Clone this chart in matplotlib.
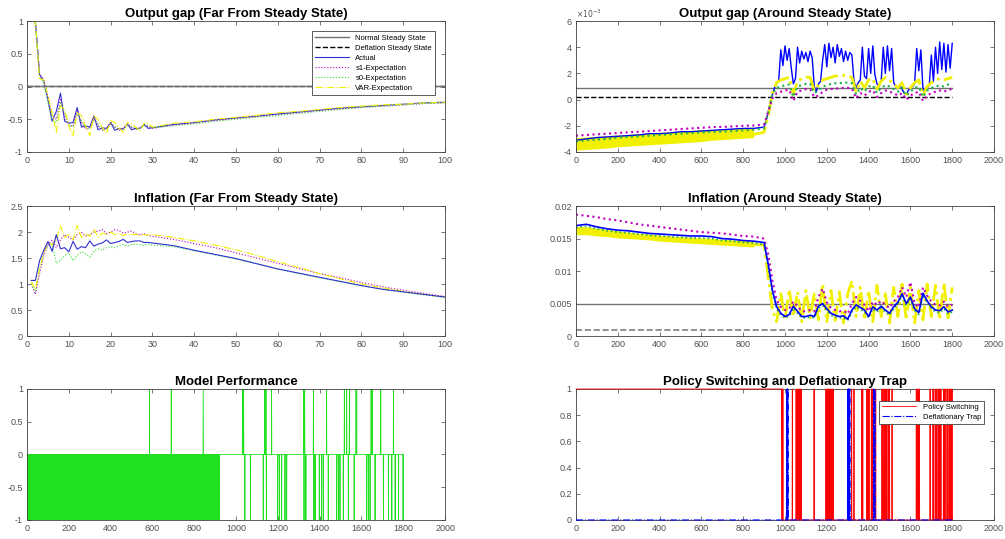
import matplotlib.pyplot as plt
import numpy as np
from matplotlib.ticker import FuncFormatter

plt.rcParams['font.family'] = ['Liberation Sans', 'DejaVu Sans']
plt.rcParams['axes.unicode_minus'] = False

############------input-----##############
# far from steady state: periods 1..30, then every 5 up to 100
t_far = list(range(1, 31)) + list(range(35, 101, 5))

gap_actual = [1.6, 1.0, 0.18, 0.08, -0.2, -0.53, -0.38, -0.1, -0.53, -0.56,
              -0.55, -0.32, -0.62, -0.6, -0.62, -0.45, -0.66, -0.63, -0.64, -0.55,
              -0.67, -0.64, -0.65, -0.57, -0.66, -0.64, -0.64, -0.58, -0.64, -0.63,
              -0.58, -0.55, -0.51, -0.48, -0.45, -0.42, -0.39, -0.36, -0.33, -0.31,
              -0.29, -0.27, -0.25, -0.24]
gap_s1 = [1.5, 0.95, 0.2, 0.1, -0.15, -0.45, -0.5, -0.2, -0.45, -0.6,
          -0.6, -0.38, -0.55, -0.65, -0.63, -0.48, -0.6, -0.67, -0.64, -0.55,
          -0.62, -0.67, -0.64, -0.58, -0.62, -0.66, -0.63, -0.59, -0.61, -0.64,
          -0.59, -0.56, -0.52, -0.49, -0.46, -0.43, -0.4, -0.37, -0.34, -0.32,
          -0.3, -0.28, -0.26, -0.25]
gap_s0 = [1.4, 0.9, 0.15, 0.05, -0.25, -0.5, -0.55, -0.25, -0.4, -0.58,
          -0.62, -0.42, -0.52, -0.63, -0.64, -0.5, -0.58, -0.66, -0.65, -0.57,
          -0.6, -0.66, -0.65, -0.6, -0.61, -0.65, -0.64, -0.6, -0.6, -0.63,
          -0.6, -0.57, -0.53, -0.5, -0.47, -0.44, -0.41, -0.38, -0.35, -0.32,
          -0.3, -0.28, -0.26, -0.25]
gap_var = [1.2, 1.0, 0.12, 0.1, -0.15, -0.4, -0.7, -0.3, -0.35, -0.6,
           -0.75, -0.4, -0.45, -0.6, -0.75, -0.45, -0.5, -0.62, -0.72, -0.52,
           -0.55, -0.63, -0.7, -0.55, -0.57, -0.62, -0.68, -0.56, -0.57, -0.62,
           -0.56, -0.54, -0.5, -0.47, -0.44, -0.4, -0.38, -0.35, -0.32, -0.3,
           -0.28, -0.27, -0.25, -0.24]

inf_actual = [1.07, 1.07, 1.45, 1.65, 1.82, 1.63, 1.95, 1.68, 1.7, 1.62,
              1.82, 1.67, 1.72, 1.7, 1.83, 1.73, 1.77, 1.79, 1.85, 1.78,
              1.8, 1.82, 1.86, 1.8, 1.82, 1.83, 1.83, 1.8, 1.8, 1.79,
              1.74, 1.65, 1.57, 1.49, 1.39, 1.29, 1.21, 1.13, 1.05, 0.97,
              0.9, 0.85, 0.8, 0.75]
inf_s1 = [1.0, 0.8, 1.2, 1.55, 1.75, 1.85, 1.7, 1.85, 1.95, 1.9,
          1.85, 1.95, 2.0, 1.92, 1.95, 2.0, 2.02, 2.05, 1.97, 2.0,
          2.05, 2.03, 1.98, 2.0, 2.02, 1.97, 1.95, 1.97, 1.93, 1.92,
          1.86, 1.78, 1.7, 1.6, 1.5, 1.4, 1.3, 1.2, 1.12, 1.03,
          0.95, 0.88, 0.82, 0.76]
inf_s0 = [1.0, 0.85, 1.3, 1.6, 1.75, 1.78, 1.4, 1.45, 1.55, 1.6,
          1.45, 1.55, 1.62, 1.58, 1.52, 1.63, 1.68, 1.65, 1.7, 1.72,
          1.7, 1.74, 1.76, 1.73, 1.76, 1.77, 1.76, 1.75, 1.76, 1.75,
          1.72, 1.64, 1.56, 1.48, 1.39, 1.29, 1.2, 1.12, 1.04, 0.97,
          0.9, 0.84, 0.79, 0.74]
inf_var = [1.05, 0.9, 1.3, 1.6, 1.8, 1.75, 1.85, 2.12, 1.9, 1.95,
           1.85, 2.13, 1.9, 1.97, 1.92, 2.05, 1.9, 1.98, 1.95, 2.0,
           1.95, 1.97, 1.93, 1.97, 1.95, 1.96, 1.93, 1.95, 1.94, 1.95,
           1.9, 1.83, 1.75, 1.66, 1.55, 1.43, 1.32, 1.2, 1.1, 1.0,
           0.93, 0.86, 0.8, 0.75]

# around steady state: every 50 up to 850, then every 20 up to 1800 (units 1e-3)
t_pre = list(range(0, 900, 50))
t_near = t_pre + list(range(900, 1801, 20))
t_blue = t_pre + list(range(900, 1801, 10))

og_actual = [-3.1, -3.0, -2.9, -2.85, -2.8, -2.75, -2.7, -2.6, -2.6, -2.55, -2.45, -2.45, -2.4, -2.35, -2.3, -2.25, -2.2, -2.2,
             -2.1, -1.6, -0.9, -0.2, 0.4, 0.9, 1.2, 1.5, 3.8, 2.6,
             4.1, 3.0, 3.9, 2.4, 1.2, 1.6, 4.0, 2.8, 3.7, 3.1,
             3.6, 2.9, 3.7, 3.2, 1.0, 0.6, 1.2, 1.4, 3.0, 4.2,
             2.5, 4.3, 3.2, 4.0, 2.8, 4.2, 3.3, 3.9, 2.9, 3.7,
             3.0, 3.6, 3.4, 1.4, 0.9, 1.3, 1.5, 4.0, 1.8, 1.6,
             3.9, 2.0, 4.1, 1.9, 1.2, 1.0, 1.4, 4.0, 2.0, 4.1,
             2.2, 3.9, 1.3, 1.0, 0.9, 1.1, 0.8, 0.5, 0.4, 0.7,
             0.9, 1.0, 1.2, 3.9, 2.2, 3.8, 0.8, 0.6, 0.9, 1.1,
             3.4, 1.4, 4.0, 2.0, 4.4, 2.3, 4.3, 2.1, 4.2, 2.4,
             4.3]
og_s1 = [-2.75, -2.7, -2.65, -2.6, -2.55, -2.5, -2.45, -2.4, -2.35, -2.3, -2.25, -2.2, -2.15, -2.1, -2.08, -2.05, -2.0, -1.98,
         -1.9, -0.9, 0.1, 0.5, 0.6, 0.7, 0.75, -0.1, 0.6, 0.7, 0.8, 0.8, 0.2, 0.3, 0.6, 0.75, 0.8, 0.85, 0.85, 0.9, 0.9, 0.85,
         0.1, 0.5, 0.3, 0.6, 0.7, 0.2, 0.5, 0.7, 0.6, 0.5, 0.3, 0.5, 0.0, 0.3, 0.5, 0.6, -0.1, 0.3, 0.5, 0.6,
         0.7, 0.6, 0.75, 0.8]
og_s0 = [-3.2, -3.1, -3.05, -3.0, -2.9, -2.85, -2.8, -2.75, -2.7, -2.65, -2.6, -2.55, -2.5, -2.45, -2.45, -2.4, -2.35, -2.3,
         -2.2, -1.0, 0.4, 0.9, 1.0, 1.1, 1.15, 0.2, 1.0, 1.1, 1.2, 1.2, 0.5, 0.7, 1.0, 1.1, 1.2, 1.25, 1.25, 1.3, 1.3, 1.25,
         0.4, 0.9, 0.6, 1.0, 1.1, 0.5, 0.9, 1.1, 1.0, 0.8, 0.6, 0.9, 0.3, 0.6, 0.9, 1.0, 0.2, 0.7, 0.9, 1.0,
         1.1, 1.0, 1.15, 1.2]
og_var = [-3.5, -3.45, -3.4, -3.3, -3.25, -3.2, -3.15, -3.1, -3.05, -3.0, -2.95, -2.9, -2.85, -2.8, -2.75, -2.72, -2.68, -2.65,
          -2.5, -1.2, 0.5, 1.3, 1.5, 1.6, 1.7, 0.4, 1.4, 1.6, 1.7, 1.7, 0.7, 1.1, 1.5, 1.6, 1.7, 1.8, 1.8, 1.85, 1.8, 1.7,
          0.6, 1.4, 0.9, 1.5, 1.6, 0.8, 1.4, 1.7, 1.5, 1.2, 0.9, 1.3, 0.4, 0.9, 1.3, 1.5, 0.3, 1.0, 1.3, 1.5,
          1.6, 1.5, 1.6, 1.7]
# spread of the noisy VAR band before the switch (lower / upper edge)
og_var_lo = [-3.85, -3.8, -3.75, -3.7, -3.6, -3.55, -3.5, -3.45, -3.4, -3.35, -3.3, -3.25, -3.2, -3.1, -3.05, -3.0, -2.95, -2.9]
og_var_hi = [-2.9, -2.85, -2.8, -2.75, -2.7, -2.65, -2.6, -2.55, -2.5, -2.45, -2.4, -2.35, -2.3, -2.3, -2.25, -2.2, -2.15, -2.1]

pi_actual = [17.0, 17.2, 16.8, 16.5, 16.3, 16.2, 16.0, 15.8, 15.7, 15.6, 15.5, 15.4, 15.4, 15.3, 15.0, 14.9, 14.7, 14.6,
             14.4, 11.0, 7.0, 4.5, 3.5, 3.0, 3.3, 4.6, 3.8, 3.0, 3.0, 3.2, 3.0, 4.6, 5.0, 4.2, 3.5, 3.2, 3.0, 3.1, 2.6, 4.0,
             4.8, 4.4, 4.0, 3.0, 4.5, 4.0, 4.6, 4.0, 3.5, 4.5, 5.2, 6.5, 5.0, 6.0, 4.2, 3.6, 6.6, 5.4, 4.5, 4.0,
             3.9, 4.5, 3.7, 4.0]
pi_s1 = [18.7, 18.5, 18.3, 18.0, 17.8, 17.5, 17.2, 17.0, 16.8, 16.6, 16.4, 16.2, 16.0, 15.9, 15.8, 15.6, 15.4, 15.3,
         15.0, 12.5, 8.5, 5.5, 4.5, 4.0, 4.2, 5.3, 4.6, 3.8, 3.8, 4.0, 3.8, 6.0, 7.3, 5.2, 4.3, 4.0, 3.8, 3.9, 3.4, 5.0,
         6.0, 5.4, 4.8, 3.8, 5.3, 4.8, 5.4, 4.8, 4.3, 5.3, 6.0, 7.5, 6.0, 8.3, 5.0, 4.4, 7.5, 6.2, 5.3, 4.8,
         4.7, 5.3, 4.5, 4.8]
pi_s0 = [16.7, 16.9, 16.5, 16.2, 16.0, 15.9, 15.7, 15.5, 15.4, 15.3, 15.2, 15.1, 15.1, 15.0, 14.7, 14.6, 14.4, 14.3,
         14.1, 10.5, 6.5, 4.2, 3.2, 2.8, 3.0, 4.3, 3.5, 2.8, 2.8, 2.9, 2.8, 4.3, 4.7, 3.9, 3.2, 2.9, 2.8, 2.8, 2.4, 3.7,
         4.5, 4.1, 3.7, 2.8, 4.2, 3.7, 4.3, 3.7, 3.2, 4.2, 4.9, 6.2, 4.7, 5.7, 3.9, 3.3, 6.3, 5.1, 4.2, 3.7,
         3.6, 4.2, 3.4, 3.7]
pi_var = [16.3, 16.2, 16.0, 15.8, 15.6, 15.5, 15.3, 15.2, 15.0, 14.9, 14.8, 14.7, 14.6, 14.5, 14.4, 14.3, 14.2, 14.1,
          14.0, 9.0, 4.0, 2.2, 6.5, 2.5, 7.2, 3.0, 6.8, 2.2, 7.0, 2.8, 6.5, 2.5, 8.0, 2.2, 7.0, 2.4, 6.8, 2.0, 6.5, 8.5,
          3.0, 7.5, 2.5, 7.0, 2.2, 7.8, 3.0, 6.5, 2.0, 7.5, 3.0, 8.0, 2.5, 7.5, 2.0, 7.0, 2.5, 8.0, 3.0, 7.8,
          2.5, 8.2, 2.8, 7.5]
pi_var_lo = [15.6, 15.6, 15.4, 15.3, 15.1, 15.0, 14.9, 14.8, 14.6, 14.5, 14.4, 14.3, 14.2, 14.1, 14.0, 13.9, 13.8, 13.7]
pi_var_hi = [16.9, 16.8, 16.6, 16.4, 16.2, 16.0, 15.8, 15.7, 15.5, 15.4, 15.3, 15.2, 15.1, 15.0, 14.9, 14.8, 14.7, 14.6]

# steady states (units 1e-3)
og_normal, og_deflation = 0.85, 0.2
pi_normal, pi_deflation = 5.0, 1.0

# model performance events (period index)
n_periods = 1800
perf_dense_end = 920
perf_gaps = [125, 127, 437]
perf_up = [586, 690, 843, 1031, 1036, 1138, 1143, 1170, 1323, 1328, 1370, 1433, 1518, 1529, 1542,
           1574, 1577, 1646, 1652, 1692, 1753]
perf_down = [1042, 1069, 1130, 1145, 1199, 1207, 1218, 1234, 1242, 1325, 1334, 1372, 1378, 1398, 1409,
             1417, 1441, 1481, 1489, 1497, 1513, 1537, 1565, 1625, 1633, 1641, 1665, 1705, 1729, 1745,
             1761, 1777, 1799]

# policy switching / deflationary trap
policy_normal_end = 984
policy_back = [987, 990, 1035, 1053, 1058, 1063, 1068, 1073, 1077, 1139, 1196, 1201, 1206, 1211, 1216,
               1221, 1226, 1230, 1319, 1330, 1368, 1372, 1392, 1397, 1402, 1413, 1418, 1434, 1464, 1469,
               1476, 1482, 1487, 1494, 1500, 1512, 1628, 1633, 1638, 1643, 1694, 1708, 1712, 1722, 1727,
               1736, 1741, 1746, 1758, 1762, 1770, 1778, 1785, 1790, 1795, 1799]
trap_on = [1008, 1010, 1012, 1014, 1300, 1302, 1304, 1306, 1308, 1310, 1424, 1427, 1430]
##########################################

c_norm = '#707070'
c_yel = '#f0f000'
lw = 0.8
fmt = FuncFormatter(lambda v, p: '%g' % v)

fig = plt.figure(figsize=(10.05, 5.39), dpi=100)
left_x, right_x, w = 0.0269, 0.5731, 0.416
rows = [(0.718, 0.243), (0.3766, 0.241), (0.0353, 0.243)]


def style(ax, title, xlim, xticks, ylim, yticks):
    ax.set_xlim(xlim)
    ax.set_ylim(ylim)
    ax.set_xticks(xticks)
    ax.set_yticks(yticks)
    ax.xaxis.set_major_formatter(fmt)
    ax.yaxis.set_major_formatter(fmt)
    ax.tick_params(direction='in', top=True, right=True, length=3, width=0.5,
                   labelsize=6.5, labelcolor='#505050', color='#404040', pad=3)
    for s in ax.spines.values():
        s.set_color('#404040')
        s.set_linewidth(0.6)
    ax.set_title(title, fontsize=9.5, fontweight='bold', pad=3)


def boxed_legend(ax, y, handles=None, labels=None):
    if handles is None:
        handles, labels = ax.get_legend_handles_labels()
    leg = ax.legend(handles, labels, loc='upper right', fontsize=5.5, handlelength=4.5, labelspacing=0.35,
                    borderpad=0.4, fancybox=False, framealpha=1, bbox_to_anchor=(0.985, y))
    leg.get_frame().set_edgecolor('#404040')
    leg.get_frame().set_linewidth(0.6)


# output gap far
ax1 = fig.add_axes([left_x, rows[0][0], w, rows[0][1]])
ax1.plot([0, 100], [og_deflation * 1e-3] * 2, 'k--', lw=1, label='Deflation Steady State')
ax1.plot(t_far, gap_actual, color='#3030d0', lw=lw, label='Actual')
ax1.plot(t_far, gap_s1, ':', color='m', lw=lw, label='s1-Expectation')
ax1.plot(t_far, gap_s0, ':', color='#30e030', lw=lw, label='s0-Expectation')
ax1.plot(t_far, gap_var, '-.', color=c_yel, lw=lw, label='VAR-Expectation')
ax1.plot([0, 100], [og_normal * 1e-3] * 2, color=c_norm, lw=1, label='Normal Steady State')
style(ax1, 'Output gap (Far From Steady State)', (0, 100), range(0, 101, 10), (-1, 1), [-1, -0.5, 0, 0.5, 1])
h, l = ax1.get_legend_handles_labels()
order = [5, 0, 1, 2, 3, 4]
boxed_legend(ax1, 0.95, [h[i] for i in order], [l[i] for i in order])

# inflation far
ax2 = fig.add_axes([left_x, rows[1][0], w, rows[1][1]])
ax2.plot(t_far, inf_s1, ':', color='m', lw=lw)
ax2.plot(t_far, inf_s0, ':', color='#30e030', lw=lw)
ax2.plot(t_far, inf_var, '-.', color=c_yel, lw=lw)
ax2.plot(t_far, inf_actual, color='#3030d0', lw=lw)
style(ax2, 'Inflation (Far From Steady State)', (0, 100), range(0, 101, 10), (0, 2.5), [0, 0.5, 1, 1.5, 2, 2.5])

# model performance
t_all = np.arange(n_periods + 1)
perf = np.zeros(n_periods + 1)
perf[1:perf_dense_end:2] = -1
perf[perf_gaps] = 0
perf[perf_down] = -1
perf[perf_up] = 1
ax3 = fig.add_axes([left_x, rows[2][0], w, rows[2][1]])
ax3.plot(t_all, perf, color='#20e020', lw=0.6)
style(ax3, 'Model Performance', (0, 2000), range(0, 2001, 200), (-1, 1), [-1, -0.5, 0, 0.5, 1])

# output gap around steady state
ax4 = fig.add_axes([right_x, rows[0][0], w, rows[0][1]])
ax4.plot([0, n_periods], [og_normal] * 2, color=c_norm, lw=1)
ax4.plot([0, n_periods], [og_deflation] * 2, 'k--', lw=1)
ax4.plot(t_blue, og_actual, color='b', lw=1.0)
ax4.fill_between(t_pre, og_var_lo, og_var_hi, color=c_yel, lw=0)
ax4.plot(t_near, og_var, '-.', color=c_yel, lw=2)
ax4.plot(t_near, og_s0, ':', color='#20b050', lw=1.5)
ax4.plot(t_near, og_s1, ':', color='m', lw=1.5)
style(ax4, 'Output gap (Around Steady State)', (0, 2000), range(0, 2001, 200), (-4, 6), range(-4, 7, 2))
ax4.text(0, 1.01, r'$\times10^{-3}$', transform=ax4.transAxes, fontsize=5.5, color='#505050', va='bottom')

# inflation around steady state
ax5 = fig.add_axes([right_x, rows[1][0], w, rows[1][1]])
ax5.plot([0, n_periods], [pi_normal * 1e-3] * 2, color=c_norm, lw=1)
ax5.plot([0, n_periods], [pi_deflation * 1e-3] * 2, '--', color='#808080', lw=1.2)
ax5.fill_between(t_pre, np.array(pi_var_lo) * 1e-3, np.array(pi_var_hi) * 1e-3, color=c_yel, lw=0)
ax5.plot(t_near, np.array(pi_var) * 1e-3, '-.', color=c_yel, lw=2)
ax5.plot(t_near, np.array(pi_s1) * 1e-3, ':', color='m', lw=1.5)
ax5.plot(t_near, np.array(pi_s0) * 1e-3, ':', color='#20b050', lw=1.2)
ax5.plot(t_near, np.array(pi_actual) * 1e-3, color='b', lw=1.2)
style(ax5, 'Inflation (Around Steady State)', (0, 2000), range(0, 2001, 200), (0, 0.02),
      [0, 0.005, 0.01, 0.015, 0.02])

# policy switching and trap
policy = np.zeros(n_periods + 1)
policy[:policy_normal_end + 1] = 1
policy[policy_back] = 1
trap = np.zeros(n_periods + 1)
trap[trap_on] = 1
ax6 = fig.add_axes([right_x, rows[2][0], w, rows[2][1]])
ax6.plot(t_all, policy, color='r', lw=0.6, label='Policy Switching', zorder=3, clip_on=False)
ax6.plot(t_all, trap, '-.', color='b', lw=0.8, label='Deflationary Trap', zorder=3, clip_on=False)
style(ax6, 'Policy Switching and Deflationary Trap', (0, 2000), range(0, 2001, 200), (0, 1),
      [0, 0.2, 0.4, 0.6, 0.8, 1])
boxed_legend(ax6, 0.94)

plt.savefig('out.png', dpi=100)
